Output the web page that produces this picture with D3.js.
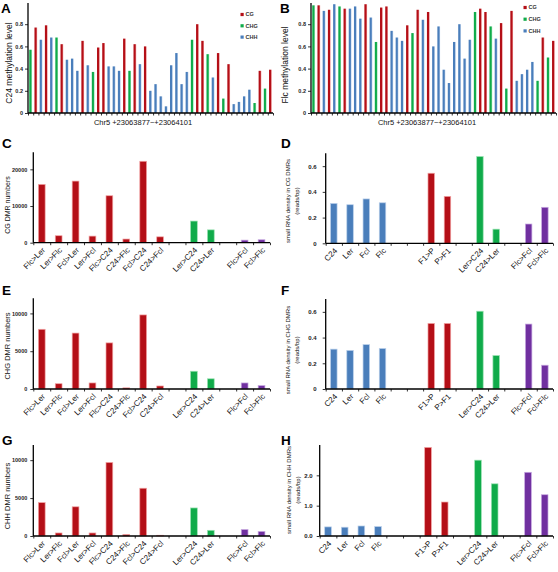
<!DOCTYPE html>
<html><head><meta charset="utf-8">
<script src="https://cdn.jsdelivr.net/npm/d3@7"></script>
<style>body{margin:0;background:#fff} text{font-family:"Liberation Sans",Arial,sans-serif}</style>
</head><body><svg id="c" width="558" height="572"></svg>
<script>
// ---------- DATA ----------
const contexts = ["CG", "CHG", "CHH"];
const siteContext = ["CHG","CG","CHH","CG","CHH","CHG","CG","CHH","CHH","CHH","CG","CHH","CHG","CG","CG","CHH","CHH","CHH","CG","CHG","CG","CHH","CG",
  "CHH","CHH","CHH","CHH","CHH","CHH","CHH","CHH","CHG","CG","CG","CHG","CHH","CG","CHG","CG","CHH","CHH","CHH","CHH","CHG","CG","CHG","CG"];
const c24Meth = [0.57,0.77,0.66,0.79,0.68,0.68,0.62,0.48,0.49,0.38,0.65,0.43,0.37,0.59,0.63,0.42,0.42,0.38,0.67,0.38,0.62,0.44,0.60,
  0.20,0.26,0.15,0.06,0.43,0.54,0.26,0.37,0.66,0.80,0.65,0.53,0.32,0.54,0.13,0.44,0.08,0.10,0.15,0.21,0.09,0.38,0.22,0.39];
const flcMeth = [0.97,0.97,0.92,0.93,0.98,0.96,0.94,0.94,0.96,0.85,0.98,0.86,0.64,0.95,0.96,0.74,0.68,0.65,0.79,0.72,0.93,0.84,0.91,
  0.60,0.78,0.39,0.27,0.64,0.80,0.49,0.66,0.91,0.94,0.91,0.78,0.67,0.81,0.22,0.92,0.29,0.35,0.39,0.46,0.29,0.68,0.50,0.65];
const regionLabel = "Chr5 +23063877~+23064101";
const methTicks = [0, 0.2, 0.4, 0.6, 0.8];

const dmrCats = ["Flc>Ler","Ler>Flc","Fcl>Ler","Ler>Fcl","Flc>C24","C24>Flc","Fcl>C24","C24>Fcl","","Ler>C24","C24>Ler","","Flc>Fcl","Fcl>Flc"];
const dmrGroups = ["red","red","red","red","red","red","red","red","","green","green","","purple","purple"];
const cgDMR  = [15900,1900,16800,1800,12800,1000,22200,1600,null,5900,3500,null,700,800];
const chgDMR = [7900,700,7400,800,6100,150,9800,400,null,2350,1350,null,800,450];
const chhDMR = [4400,400,3850,400,9700,200,6300,100,null,3700,750,null,850,600];
const cgDMRTicks = [0, 10000, 20000];
const chDMRTicks = [0, 5000, 10000];

const srnaCats = ["C24","Ler","Fcl","Flc","","","F1>P","P>F1","","Ler>C24","C24>Ler","","Flc>Fcl","Fcl>Flc"];
const srnaGroups = ["blue","blue","blue","blue","","","red","red","","green","green","","purple","purple"];
const cgSRNA  = [0.31,0.30,0.345,0.315,null,null,0.545,0.365,null,0.675,0.11,null,0.15,0.28];
const chgSRNA = [0.31,0.30,0.345,0.315,null,null,0.51,0.51,null,0.605,0.26,null,0.505,0.185];
const chhSRNA = [0.30,0.29,0.33,0.31,null,null,2.92,1.12,null,2.50,1.72,null,2.10,1.36];
const srnaTicks = [0, 0.2, 0.4, 0.6];
const chhSrnaTicks = [0, 1, 2];

// ---------- STYLE ----------
const col = {red:"#b40f17", green:"#10ab4a", blue:"#4a7ebb", purple:"#7030a0"};
const light = {red:"#f2a3a3", green:"#9be3b3", blue:"#b9cfea", purple:"#c7a8e0"};
const ctxColor = {CG:"red", CHG:"green", CHH:"blue"};

const svg = d3.select("#c");
const defs = svg.append("defs");
Object.keys(col).forEach(k => {
  const lg = defs.append("linearGradient").attr("id","g_"+k).attr("x1","0").attr("x2","1").attr("y1","0").attr("y2","0");
  lg.append("stop").attr("offset","0").attr("stop-color",col[k]);
  lg.append("stop").attr("offset","0.6").attr("stop-color",col[k]);
  lg.append("stop").attr("offset","1").attr("stop-color",light[k]);
});

function panel(o) {
  const g = svg.append("g");
  const n = o.values.length;
  const x = d3.scaleBand().domain(d3.range(n)).range([o.x0, o.x1]).paddingInner(o.pad).paddingOuter(o.pad/2);
  const xs = d3.scaleLinear().domain([0, n]).range([o.x0, o.x1]);
  const y = d3.scaleLinear().domain([0, o.ymax]).range([o.base, o.top]);
  g.selectAll("rect.bar").data(o.values.map((v,i)=>({v,i,c:o.colors[i]})).filter(d=>d.v!=null))
    .join("rect").attr("class","bar")
    .attr("x", d=>x(d.i)).attr("width", x.bandwidth())
    .attr("y", d=>y(d.v)).attr("height", d=>o.base - y(d.v))
    .attr("fill", d=>o.grad ? "url(#g_"+d.c+")" : col[d.c])
    .attr("stroke", d=>o.grad ? "none" : light[d.c]).attr("stroke-width", 0.7);
  const ya = g.append("g").attr("transform",`translate(${o.x0},0)`)
    .call(d3.axisLeft(y).tickValues(o.ticks).tickSize(3).tickPadding(o.tpad).tickFormat(o.fmt));
  ya.select(".domain").attr("stroke","#000").attr("stroke-width",1.3).attr("d",`M0,${o.base}V${o.axTop}`);
  ya.selectAll(".tick line").attr("stroke","#000").attr("stroke-width",0.8);
  ya.selectAll(".tick text").attr("font-size",o.tfs).attr("fill","#222").attr("font-weight","bold")
    .attr("font-family","Liberation Sans, Arial, sans-serif");
  const xa = g.append("g").attr("transform",`translate(0,${o.base})`)
    .call(d3.axisBottom(xs).tickValues(d3.range(n+1)).tickSize(2.5).tickFormat(""));
  xa.select(".domain").attr("stroke","#000").attr("stroke-width",1.3).attr("d",`M${o.x0},0H${o.x1}`);
  xa.selectAll(".tick line").attr("stroke","#000").attr("stroke-width",0.8);
  if (o.cats) {
    g.selectAll("text.cat").data(o.cats.map((c,i)=>({c,i})).filter(d=>d.c))
      .join("text").attr("class","cat")
      .attr("transform", d=>`translate(${x(d.i)+x.bandwidth()/2+2},${o.base+6}) rotate(-45)`)
      .attr("text-anchor","end").attr("dy","0.35em").attr("font-size",8).attr("fill","#111")
      .text(d=>d.c);
  }
  o.ylabel.forEach((t,k)=>{
    g.append("text").attr("transform",`translate(${o.ylx + k*o.lineGap},${o.yly}) rotate(-90)`)
      .attr("text-anchor","middle").attr("font-size",o.ylfs).attr("fill","#111").text(t);
  });
  if (o.xlabel) {
    g.append("text").attr("x",o.xlx).attr("y",o.xly).attr("text-anchor","middle")
      .attr("font-size",7.5).attr("fill","#111").text(o.xlabel);
  }
  svg.append("text").attr("x",o.lx).attr("y",o.ly).attr("font-size",13.5).attr("font-weight","bold")
    .attr("font-family","Liberation Sans, Arial, sans-serif").text(o.letter);
  return {x, y};
}

function legend(lx, ly, gap) {
  contexts.forEach((c,k)=>{
    svg.append("rect").attr("x",lx).attr("y",ly+k*gap-1.6).attr("width",3.2).attr("height",3.2).attr("fill",col[ctxColor[c]]);
    svg.append("text").attr("x",lx+5).attr("y",ly+k*gap).attr("dy","0.35em").attr("font-size",5.5)
      .attr("font-weight","bold").attr("fill","#333").text(c);
  });
}

const methFmt = d => d===0 ? "0" : d3.format(".1f")(d);
panel({letter:"A", lx:1, ly:13, values:c24Meth, colors:siteContext.map(c=>ctxColor[c]), grad:true, pad:0.48,
  x0:28, x1:273, base:113, top:2, ymax:1.0, axTop:3, ticks:methTicks, fmt:methFmt, tfs:5.5, tpad:2,
  ylabel:["C24 methylation level"], ylx:12, yly:63, ylfs:8.5, lineGap:0,
  xlabel:regionLabel, xlx:143, xly:124.5});
legend(240.5, 14.5, 11.3);
panel({letter:"B", lx:280, ly:13, values:flcMeth, colors:siteContext.map(c=>ctxColor[c]), grad:true, pad:0.48,
  x0:311, x1:556, base:113, top:2, ymax:1.0, axTop:3, ticks:methTicks, fmt:methFmt, tfs:5.5, tpad:2,
  ylabel:["Flc methylation level"], ylx:288, yly:65, ylfs:8.5, lineGap:0,
  xlabel:regionLabel, xlx:427, xly:124.5});
legend(523.5, 7.5, 11.7);

const dmrFmt = d => String(d);
const srFmt = d => d===0 ? "0" : d3.format(".1f")(d);
const srFmtH = d => d3.format(".1f")(d);
panel({letter:"C", lx:2, ly:148, values:cgDMR, colors:dmrGroups, pad:0.6, cats:dmrCats,
  x0:33.3, x1:270, base:242.7, top:151, ymax:25000, axTop:152.3, ticks:cgDMRTicks, fmt:dmrFmt, tfs:5.5, tpad:3,
  ylabel:["CG DMR numbers"], ylx:9.5, yly:205, ylfs:7, lineGap:0});
panel({letter:"D", lx:281, ly:148, values:cgSRNA, colors:srnaGroups, pad:0.6, cats:srnaCats,
  x0:325.7, x1:553, base:243.3, top:153.3, ymax:0.7, axTop:153.3, ticks:srnaTicks, fmt:srFmt, tfs:6, tpad:6,
  ylabel:["small RNA density in CG DMRs","(reads/bp)"], ylx:290, yly:201, ylfs:6, lineGap:9});
panel({letter:"E", lx:2, ly:295, values:chgDMR, colors:dmrGroups, pad:0.6, cats:dmrCats,
  x0:33.3, x1:270, base:389, top:298.3, ymax:12000, axTop:298.3, ticks:chDMRTicks, fmt:dmrFmt, tfs:5.5, tpad:3,
  ylabel:["CHG DMR numbers"], ylx:9.5, yly:346, ylfs:7.5, lineGap:0});
panel({letter:"F", lx:281, ly:295, values:chgSRNA, colors:srnaGroups, pad:0.6, cats:srnaCats,
  x0:325.7, x1:553, base:389, top:299, ymax:0.7, axTop:299, ticks:srnaTicks, fmt:srFmt, tfs:6, tpad:6,
  ylabel:["small RNA density in CHG DMRs","(reads/bp)"], ylx:290, yly:350, ylfs:6, lineGap:9});
panel({letter:"G", lx:2, ly:445, values:chhDMR, colors:dmrGroups, pad:0.6, cats:dmrCats,
  x0:33.3, x1:270, base:536, top:445, ymax:12000, axTop:445, ticks:chDMRTicks, fmt:dmrFmt, tfs:5.5, tpad:3,
  ylabel:["CHH DMR numbers"], ylx:9.5, yly:496, ylfs:7.5, lineGap:0});
panel({letter:"H", lx:281, ly:445, values:chhSRNA, colors:srnaGroups, pad:0.6, cats:srnaCats,
  x0:319.7, x1:553, base:536, top:445, ymax:3.0, axTop:445, ticks:chhSrnaTicks, fmt:srFmtH, tfs:6, tpad:4,
  ylabel:["small RNA density in CHH DMRs","(reads/bp)"], ylx:291, yly:490, ylfs:6, lineGap:9});
</script></body></html>
